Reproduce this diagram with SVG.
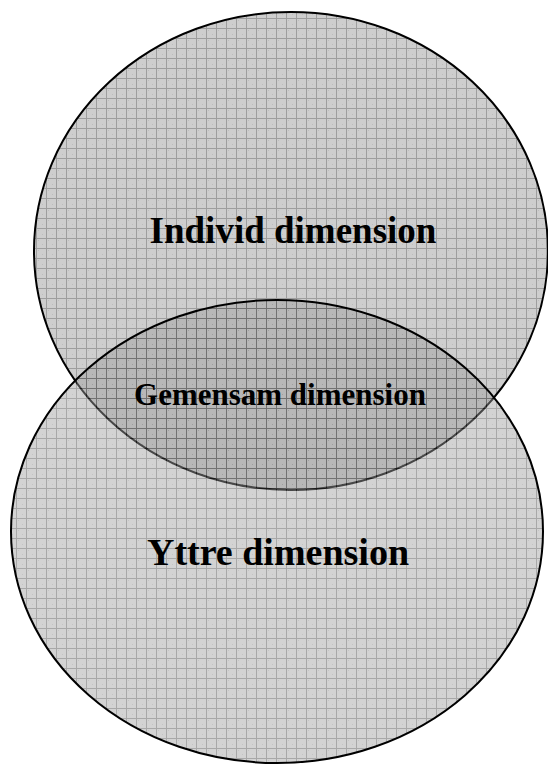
<svg xmlns="http://www.w3.org/2000/svg" width="548" height="765" viewBox="0 0 548 765">
<style>
.lbl{font-family:"Liberation Serif","Times New Roman",serif;font-weight:bold;fill:#000;text-anchor:middle}
.edge{fill:none;stroke:#000;stroke-width:2}
</style>
<defs>
<pattern id="gridA" patternUnits="userSpaceOnUse" x="6" y="8" width="10" height="10">
<rect width="10" height="10" fill="#cecece"/>
<rect x="2" y="2" width="1" height="1" fill="#bdbdbd"/>
<rect x="6" y="6" width="1" height="1" fill="#bdbdbd"/>
<path d="M0.5 0V10M0 0.5H10" stroke="#9e9e9e" stroke-width="1"/>
</pattern>
<pattern id="gridB" patternUnits="userSpaceOnUse" x="6" y="8" width="10" height="10">
<rect width="10" height="10" fill="#9d9d9d"/>
<rect x="2" y="2" width="1" height="1" fill="#7b7b7b"/>
<rect x="6" y="6" width="1" height="1" fill="#7b7b7b"/>
<path d="M0.5 0V10M0 0.5H10" stroke="#3d3d3d" stroke-width="1"/>
</pattern>
</defs>
<g id="individ">
<ellipse cx="291" cy="251" rx="257" ry="239" fill="url(#gridA)"/>
<ellipse class="edge" cx="291" cy="251" rx="257" ry="239"/>
</g>
<g id="yttre">
<ellipse cx="277" cy="531.5" rx="266" ry="231.5" fill="url(#gridB)" opacity="0.45"/>
<ellipse class="edge" cx="277" cy="531.5" rx="266" ry="231.5"/>
</g>
<g id="labels">
<text class="lbl" x="293" y="243" font-size="37">Individ dimension</text>
<text class="lbl" x="280" y="405" font-size="31">Gemensam dimension</text>
<text class="lbl" x="278" y="565" font-size="38">Yttre dimension</text>
</g>
</svg>
